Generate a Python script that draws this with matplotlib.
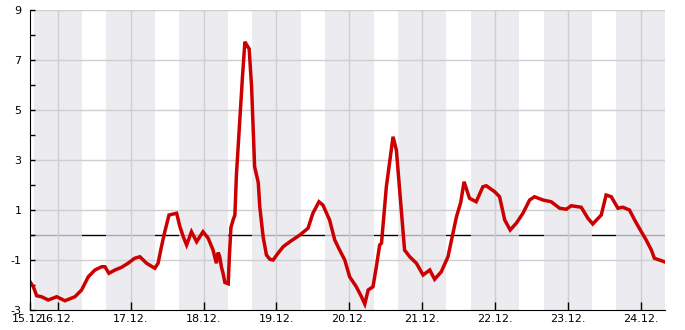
import pandas as pd
import matplotlib
matplotlib.use("Agg")
import matplotlib.pyplot as plt
import matplotlib.dates as mdates

plt.rcParams["axes.unicode_minus"] = False

# Stunden seit 15.12. 00:00 und gemessene Temperatur
hours = [14.8, 15.9, 17.0, 18.6, 20.8, 23.6, 26.3, 29.6, 31.8, 34.0,
         36.2, 38.4, 39.5, 40.8, 42.8, 45.0, 47.1, 49.3, 51.0, 53.2,
         55.9, 57.0, 58.1, 59.2, 60.6, 63.1, 64.2, 65.3, 66.4, 68.0,
         69.7, 71.8, 73.5, 75.1, 76.2, 76.8, 77.3, 77.9, 78.4, 79.0,
         80.1, 80.5, 81.0, 81.7, 82.3, 82.8, 83.9, 84.8, 85.6, 86.2,
         87.0, 87.8, 88.3, 88.8, 90.0, 90.5, 91.6, 92.7, 93.8, 94.9,
         96.5, 98.2, 100.4, 103.7, 106.4, 108.0, 110.0, 111.3, 113.5, 115.2,
         116.8, 118.5, 120.1, 122.3, 124.0, 125.1, 126.2, 127.8, 128.9, 130.0,
         130.6, 132.2, 134.4, 135.5, 137.2, 138.2, 139.9, 142.1, 144.3, 146.5,
         148.1, 150.3, 152.5, 155.3, 156.7, 157.8, 159.6, 161.8, 164.0, 165.1,
         167.9, 169.5, 171.2, 173.0, 175.0, 177.2, 179.4, 181.0, 183.8, 186.5,
         189.3, 191.5, 193.1, 196.4, 198.6, 200.2, 203.0, 204.6, 206.3, 208.5,
         210.1, 212.3, 214.0, 216.2, 217.8, 219.5, 220.5, 223.8]
temps = [-1.87, -2.07, -2.43, -2.47, -2.6, -2.47, -2.63, -2.47, -2.2, -1.67,
         -1.4, -1.27, -1.27, -1.53, -1.4, -1.29, -1.13, -0.93, -0.87, -1.13,
         -1.33, -1.13, -0.47, 0.13, 0.8, 0.87, 0.33, -0.07, -0.4, 0.13,
         -0.27, 0.13, -0.13, -0.6, -1.13, -0.7, -0.87, -1.3, -1.53, -1.9,
         -1.95, -0.8, 0.3, 0.6, 0.8, 2.4, 4.6, 6.33, 7.73, 7.6,
         7.45, 5.93, 4.33, 2.73, 2.1, 1.13, -0.07, -0.8, -0.97, -1.0,
         -0.73, -0.47, -0.27, 0.0, 0.27, 0.87, 1.33, 1.2, 0.6, -0.2,
         -0.6, -1.0, -1.67, -2.07, -2.47, -2.76, -2.2, -2.07, -1.27, -0.4,
         -0.33, 1.93, 3.93, 3.4, 0.87, -0.6, -0.87, -1.13, -1.6, -1.4,
         -1.77, -1.47, -0.87, 0.73, 1.3, 2.13, 1.47, 1.33, 1.93, 1.97,
         1.73, 1.53, 0.6, 0.2, 0.47, 0.87, 1.4, 1.53, 1.4, 1.33,
         1.07, 1.03, 1.17, 1.11, 0.67, 0.44, 0.8, 1.6, 1.53, 1.07,
         1.11, 1.0, 0.6, 0.13, -0.2, -0.6, -0.93, -1.07]

day_labels = ["15.12.", "16.12.", "17.12.", "18.12.", "19.12.",
              "20.12.", "21.12.", "22.12.", "23.12.", "24.12."]

base = pd.Timestamp("2013-12-15")
t = base + pd.to_timedelta(hours, unit="h")
t_start = base + pd.Timedelta(hours=14.8)
t_end = base + pd.Timedelta(days=9, hours=8)

fig = plt.figure(figsize=(6.85, 3.3), dpi=100)
ax = fig.add_axes([30 / 685, 20 / 330, 635 / 685, 300 / 330])

# Nachtbereiche 16:00 - 08:00
for d in range(10):
    mid = base + pd.Timedelta(days=d)
    ax.axvspan(mid - pd.Timedelta(hours=8), mid + pd.Timedelta(hours=8),
               color=(228 / 255, 228 / 255, 236 / 255), alpha=0.74, lw=0, zorder=1)

ax.axhline(0, color="black", lw=1, zorder=0.5)
for y in [1, 3, 5, 7, 9, -1]:
    ax.axhline(y, color="#cfcfcf", lw=1, zorder=1.5)
for d in range(1, 10):
    ax.axvline(base + pd.Timedelta(days=d), color="#cfcfcf", lw=1, zorder=1.5)

ax.plot(t, temps, color="#cc0000", lw=2.5, zorder=3, solid_joinstyle="miter")

ax.set_xlim(t_start, t_end)
ax.set_ylim(-3, 9)

ticks = [t_start] + [base + pd.Timedelta(days=d) for d in range(1, 10)]
ax.set_xticks(mdates.date2num(ticks))
ax.set_xticklabels(day_labels)
ax.set_yticks([-3, -1, 1, 3, 5, 7, 9])
ax.set_yticks([-2, 0, 2, 4, 6, 8], minor=True)

ax.tick_params(axis="x", direction="in", length=6, width=1, labelsize=8, pad=3)
ax.tick_params(axis="y", which="both", direction="in", length=3.5, width=1,
               labelsize=8, pad=6)
for s in ["top", "right"]:
    ax.spines[s].set_visible(False)
ax.spines["left"].set_zorder(4)
ax.spines["bottom"].set_zorder(4)
ax.set_facecolor("white")

fig.savefig("out.png", dpi=100)
